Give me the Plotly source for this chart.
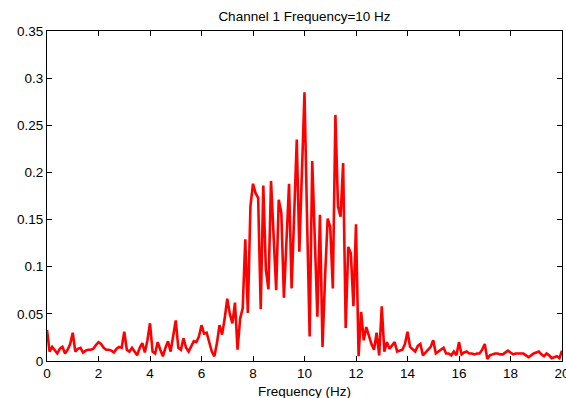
import numpy as np
import plotly.graph_objects as go

# Spectrum magnitude, one value every 0.1 Hz from 0 to 20 Hz
magnitude = [
    # 0.0 - 0.9
    0.033, 0.010, 0.015, 0.012, 0.008, 0.013, 0.015, 0.008, 0.012, 0.018,
    # 1.0 - 1.9
    0.030, 0.010, 0.013, 0.014, 0.009, 0.011, 0.012, 0.012, 0.013, 0.017,
    # 2.0 - 2.9
    0.020, 0.018, 0.014, 0.012, 0.012, 0.011, 0.009, 0.013, 0.015, 0.014,
    # 3.0 - 3.9
    0.031, 0.012, 0.010, 0.014, 0.010, 0.006, 0.014, 0.019, 0.009, 0.022,
    # 4.0 - 4.9
    0.040, 0.010, 0.008, 0.020, 0.012, 0.005, 0.014, 0.021, 0.010, 0.025,
    # 5.0 - 5.9
    0.043, 0.014, 0.012, 0.024, 0.014, 0.010, 0.016, 0.021, 0.020, 0.026,
    # 6.0 - 6.9
    0.038, 0.029, 0.030, 0.019, 0.010, 0.005, 0.019, 0.038, 0.028, 0.045,
    # 7.0 - 7.9
    0.066, 0.050, 0.040, 0.062, 0.012, 0.045, 0.056, 0.129, 0.051, 0.164,
    # 8.0 - 8.9
    0.188, 0.178, 0.173, 0.055, 0.186, 0.097, 0.076, 0.191, 0.130, 0.075,
    # 9.0 - 9.9
    0.171, 0.157, 0.067, 0.130, 0.188, 0.077, 0.160, 0.235, 0.116, 0.200,
    # 10.0 - 10.9
    0.285, 0.150, 0.026, 0.212, 0.120, 0.047, 0.155, 0.015, 0.090, 0.151,
    # 11.0 - 11.9
    0.142, 0.077, 0.261, 0.164, 0.153, 0.210, 0.035, 0.121, 0.114, 0.058,
    # 12.0 - 12.9
    0.145, 0.005, 0.052, 0.022, 0.036, 0.026, 0.018, 0.012, 0.030, 0.006,
    # 13.0 - 13.9
    0.058, 0.010, 0.020, 0.013, 0.016, 0.020, 0.010, 0.011, 0.012, 0.018,
    # 14.0 - 14.9
    0.031, 0.015, 0.012, 0.010, 0.016, 0.018, 0.006, 0.009, 0.011, 0.015,
    # 15.0 - 15.9
    0.022, 0.008, 0.010, 0.012, 0.014, 0.008, 0.008, 0.006, 0.010, 0.006,
    # 16.0 - 16.9
    0.020, 0.007, 0.009, 0.010, 0.008, 0.008, 0.007, 0.008, 0.008, 0.012,
    # 17.0 - 17.9
    0.018, 0.002, 0.006, 0.007, 0.008, 0.008, 0.007, 0.007, 0.009, 0.011,
    # 18.0 - 18.9
    0.009, 0.007, 0.008, 0.008, 0.008, 0.008, 0.006, 0.004, 0.006, 0.008,
    # 19.0 - 19.9
    0.009, 0.010, 0.007, 0.005, 0.008, 0.006, 0.003, 0.004, 0.005, 0.003,
    # 20.0
    0.011,
]
frequency = [round(i * 0.1, 1) for i in range(len(magnitude))]

x_ticks = [0, 2, 4, 6, 8, 10, 12, 14, 16, 18, 20]
x_tick_labels = ["0", "2", "4", "6", "8", "10", "12", "14", "16", "18", "20"]
y_ticks = [0, 0.05, 0.1, 0.15, 0.2, 0.25, 0.3, 0.35]
y_tick_labels = ["0", "0.05", "0.1", "0.15", "0.2", "0.25", "0.3", "0.35"]

title_text = "Channel 1 Frequency=10 Hz"
x_label = "Frequency (Hz)"

FONT = "Liberation Sans, Arial, Helvetica, sans-serif"
W, H = 566, 398
L, R, T, B = 47, 4, 31, 37

fig = go.Figure()
fig.add_trace(go.Scatter(
    x=frequency, y=magnitude, mode="lines",
    line=dict(color="#ff0000", width=2.6),
    hoverinfo="skip", showlegend=False, cliponaxis=True,
))

axis_common = dict(
    showline=True, linecolor="black", linewidth=1, mirror="ticks",
    ticks="inside", ticklen=5, tickwidth=1, tickcolor="black",
    showgrid=False, zeroline=False, automargin=False,
    tickfont=dict(family=FONT, size=13.5, color="black"),
)

fig.update_xaxes(range=[0, 20], tickvals=x_ticks, ticktext=x_tick_labels,
                 ticklabeloverflow="allow", **axis_common)
fig.update_yaxes(range=[0, 0.35], tickvals=y_ticks, ticktext=y_tick_labels,
                 ticklabeloverflow="allow", **axis_common)

fig.update_layout(
    width=W, height=H, autosize=False,
    margin=dict(l=L, r=R, t=T, b=B, pad=0, autoexpand=False),
    paper_bgcolor="white", plot_bgcolor="white",
    title=dict(text=title_text, x=(L + (W - L - R) / 2) / W, xanchor="center",
               y=1 - 16 / H, yanchor="middle",
               font=dict(family=FONT, size=13.5, color="black")),
    annotations=[dict(
        text=x_label, xref="paper", yref="paper", x=0.5, y=0,
        xanchor="center", yanchor="middle", yshift=-30, showarrow=False,
        font=dict(family=FONT, size=13.5, color="black"),
    )],
)

fig.write_html(
    "out.html",
    config={"displayModeBar": False, "staticPlot": True},
    post_script="document.body.style.margin='0';document.body.style.overflow='hidden';",
)
